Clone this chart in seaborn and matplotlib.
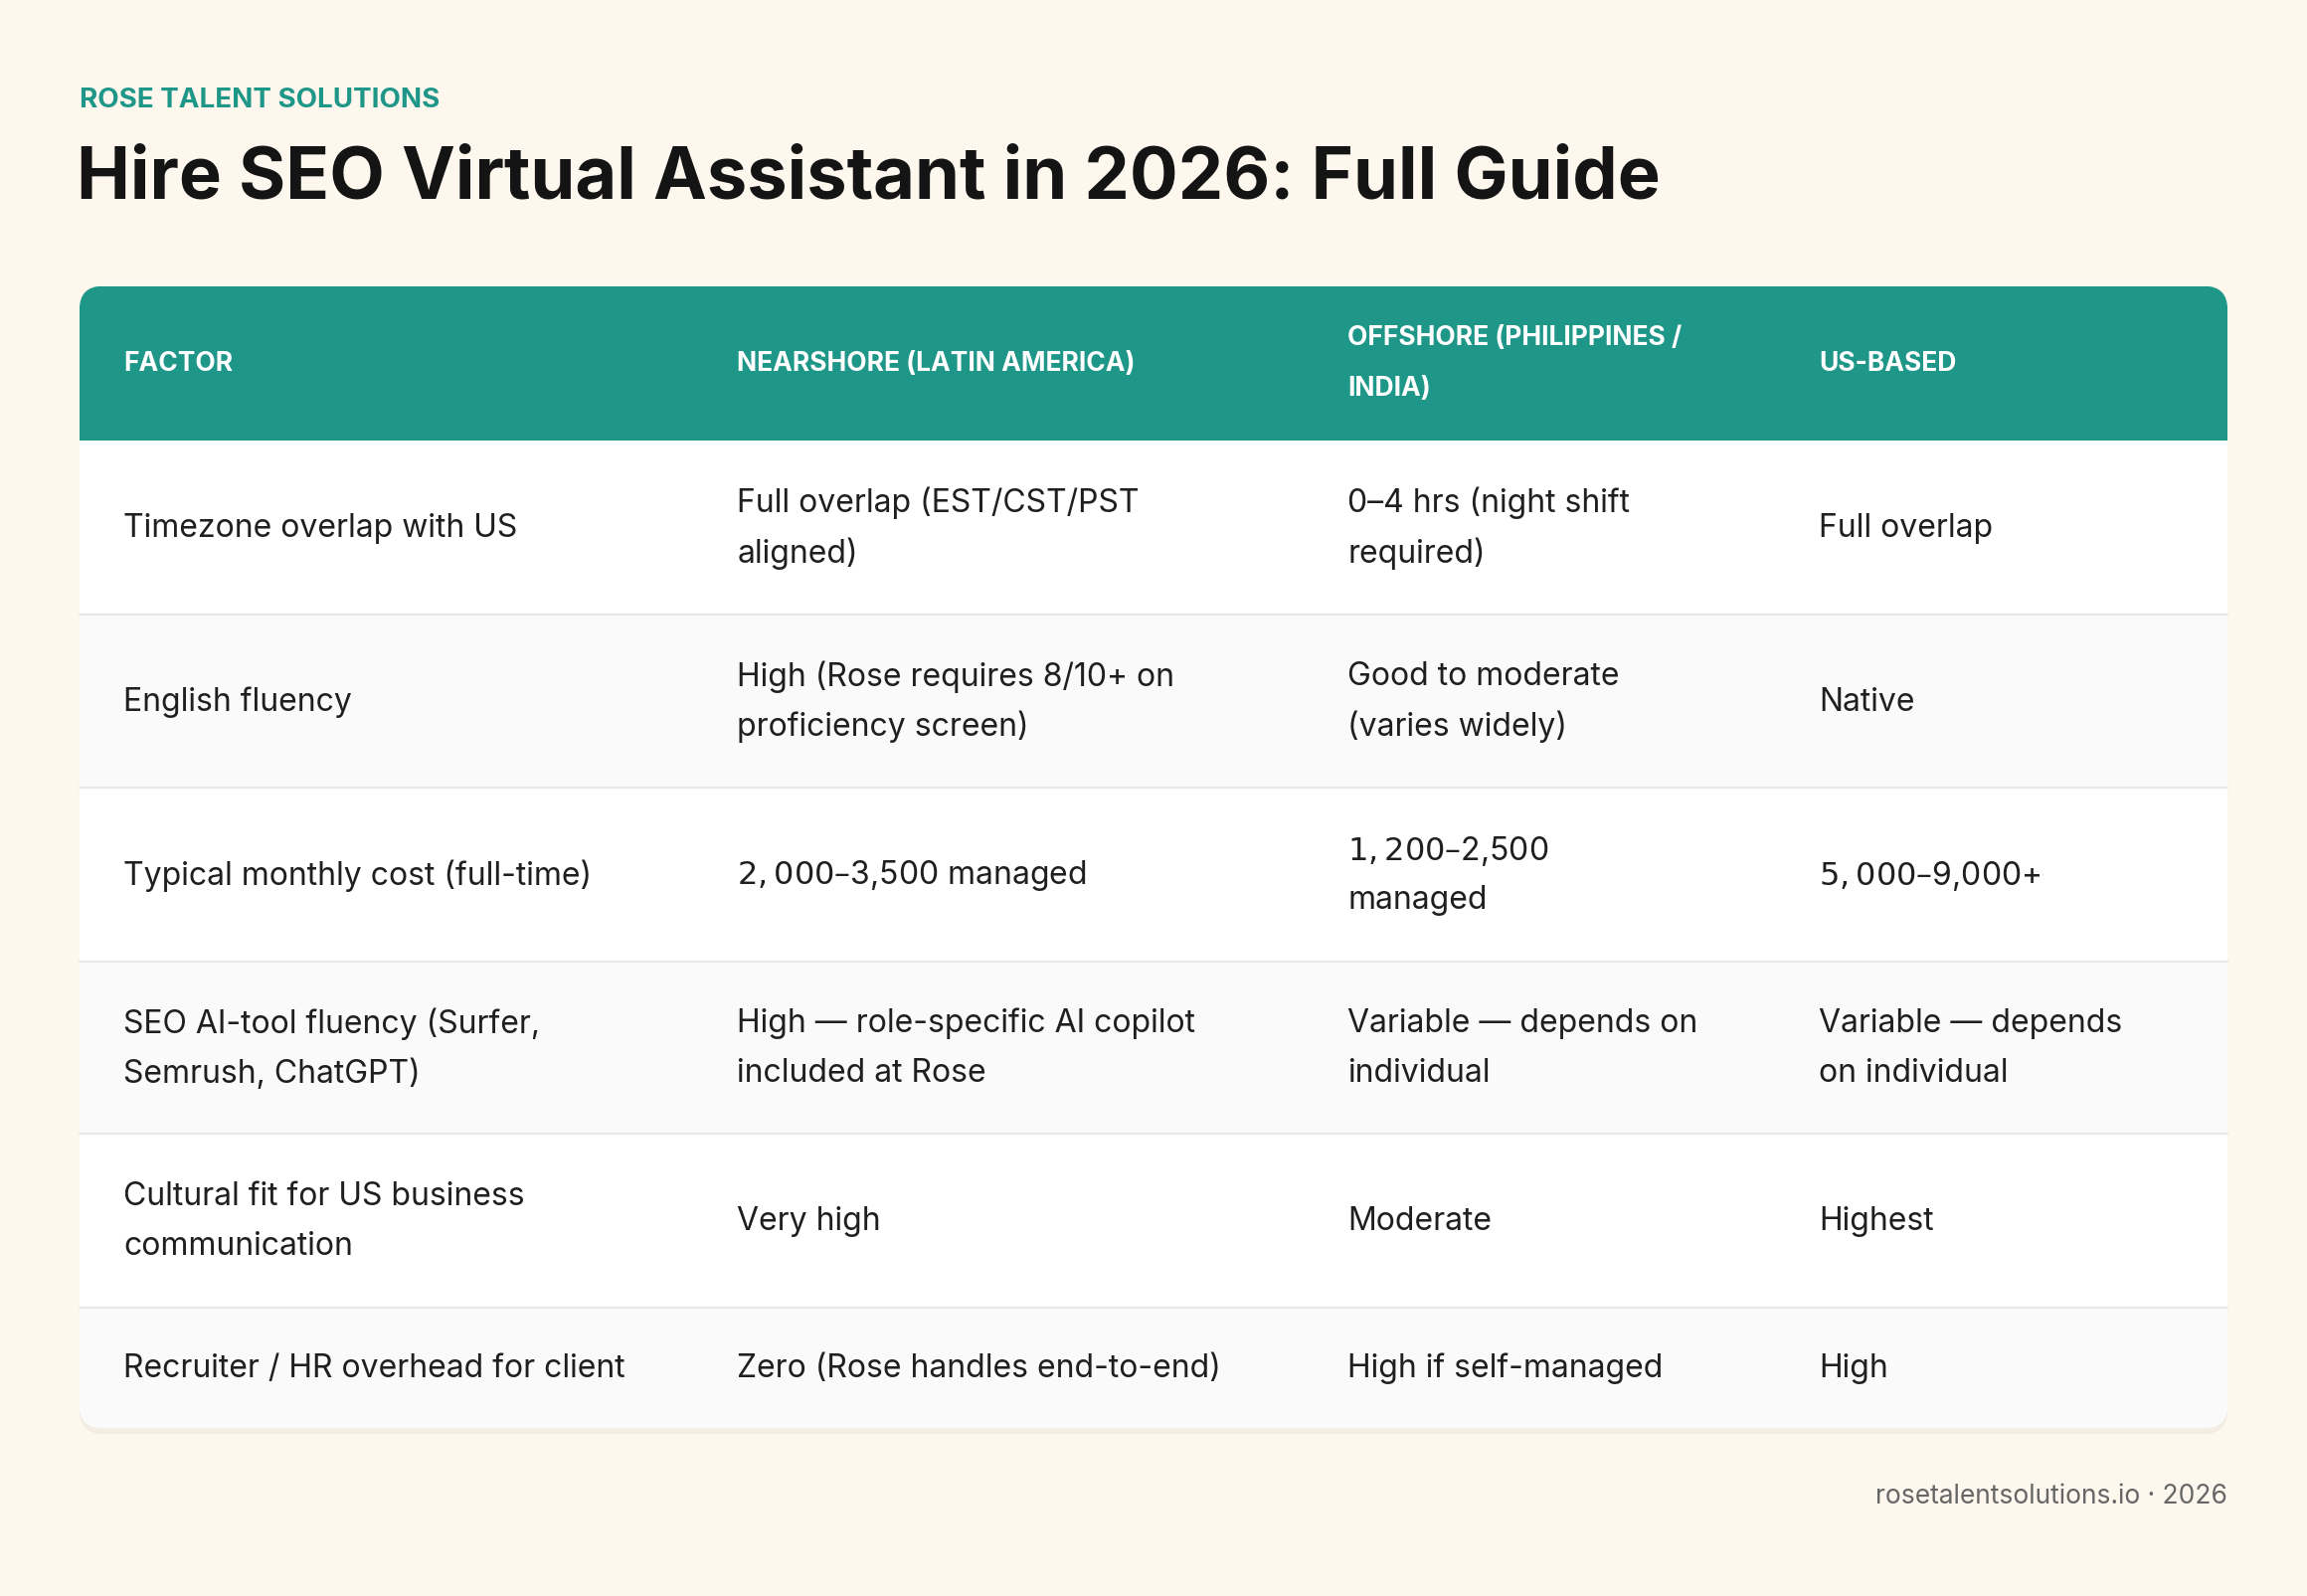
import matplotlib
matplotlib.use("Agg")
import matplotlib.pyplot as plt
import seaborn as sns
from matplotlib.patches import FancyBboxPatch, Rectangle

sns.set_theme(style="white")
plt.rcParams['font.family'] = ['Inter', 'DejaVu Sans']

brand = "ROSE TALENT SOLUTIONS"
title = "Hire SEO Virtual Assistant in 2026: Full Guide"
footer = "rosetalentsolutions.io · 2026"
headers = ["FACTOR", "NEARSHORE (LATIN AMERICA)", "OFFSHORE (PHILIPPINES /\nINDIA)", "US-BASED"]
factors = ["Timezone overlap with US", "English fluency", "Typical monthly cost (full-time)",
           "SEO AI-tool fluency (Surfer,\nSemrush, ChatGPT)", "Cultural fit for US business\ncommunication",
           "Recruiter / HR overhead for client"]
nearshore = ["Full overlap (EST/CST/PST\naligned)", "High (Rose requires 8/10+ on\nproficiency screen)",
             "$2,000–$3,500 managed", "High — role-specific AI copilot\nincluded at Rose", "Very high",
             "Zero (Rose handles end-to-end)"]
offshore = ["0–4 hrs (night shift\nrequired)", "Good to moderate\n(varies widely)", "$1,200–$2,500\nmanaged",
            "Variable — depends on\nindividual", "Moderate", "High if self-managed"]
usbased = ["Full overlap", "Native", "$5,000–$9,000+", "Variable — depends\non individual", "Highest", "High"]

TEAL = "#1E9688"
BG = "#FDF7EE"
TXT = "#1F1F1F"

fig = plt.figure(figsize=(11.6, 8.03), dpi=200)
fig.patch.set_facecolor(BG)
ax = fig.add_axes([0, 0, 1, 1])
ax.set_xlim(0, 1568); ax.set_ylim(1085, 0); ax.axis("off")

ax.text(54, 68, brand, color=TEAL, fontsize=10, fontweight="bold", va="center", ha="left")
ax.text(52, 122, title, color="#141414", fontsize=26, fontweight="bold", va="center", ha="left")

L, R, T, B = 54, 1514, 195, 971
# shadow
ax.add_patch(FancyBboxPatch((L, T + 4), R - L, B - T, boxstyle="round,pad=0,rounding_size=16",
                            fc="#000000", alpha=0.04, ec="none", zorder=1))
card = FancyBboxPatch((L, T), R - L, B - T, boxstyle="round,pad=0,rounding_size=16",
                      fc="white", ec="none", zorder=2)
ax.add_patch(card)

row_edges = [300, 418, 536, 654, 771, 889, 971]
hdr = Rectangle((L, T), R - L, 300 - T, fc=TEAL, ec="none", zorder=3)
ax.add_patch(hdr); hdr.set_clip_path(card)
for i in range(6):
    y0, y1 = row_edges[i], row_edges[i + 1]
    r = Rectangle((L, y0), R - L, y1 - y0, fc="white" if i % 2 == 0 else "#FAFAFA", ec="none", zorder=3)
    ax.add_patch(r); r.set_clip_path(card)
    if i > 0:
        ax.plot([L, R], [y0, y0], color="#E8E8E8", lw=0.8, zorder=4)

cols = [84, 501, 916, 1236]
def cell(x, yc, s, **kw):
    lines = s.split("\n")
    n = len(lines)
    for k, ln in enumerate(lines):
        ax.text(x, yc + (k - (n - 1) / 2) * 34, ln, va="center", ha="left", zorder=5, **kw)

for x, h in zip(cols, headers):
    cell(x, 247, h.replace("\n", "\n"), color="white", fontsize=9.5, fontweight="bold")
# header line spacing tighter
for i, row in enumerate(zip(factors, nearshore, offshore, usbased)):
    yc = (row_edges[i] + row_edges[i + 1]) / 2
    for x, s in zip(cols, row):
        cell(x, yc, s, color=TXT, fontsize=11.5)

ax.text(1514, 1017, footer, color="#666666", fontsize=9.5, ha="right", va="center")
fig.savefig("out.png", dpi=200, facecolor=BG)
